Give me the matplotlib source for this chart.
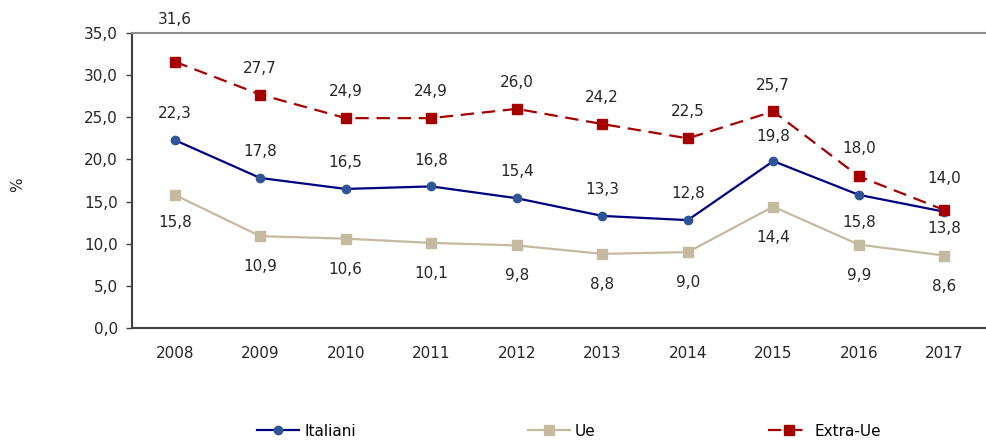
import matplotlib.pyplot as plt
import numpy as np

anni = ['2008', '2009', '2010', '2011', '2012', '2013', '2014', '2015', '2016', '2017']
italiani = [22.3, 17.8, 16.5, 16.8, 15.4, 13.3, 12.8, 19.8, 15.8, 13.8]
ue = [15.8, 10.9, 10.6, 10.1, 9.8, 8.8, 9.0, 14.4, 9.9, 8.6]
extra_ue = [31.6, 27.7, 24.9, 24.9, 26.0, 24.2, 22.5, 25.7, 18.0, 14.0]

# label offsets in points (vertical)
off_ita = [19, 19, 19, 19, 19, 19, 19, 18, -20, -12]
off_ue = [-20, -22, -22, -22, -22, -22, -22, -22, -22, -22]
off_ext = [30, 19, 19, 19, 19, 19, 19, 19, 20, 23]

plt.rcParams['font.family'] = 'DejaVu Sans'
plt.rcParams['font.size'] = 11

fig = plt.figure(figsize=(9.87, 4.4), dpi=100)
ax = fig.add_axes([0.1337, 0.2545, 0.8663, 0.6705])
x = np.arange(len(anni))

ax.plot(x, italiani, '-o', color='#000080', mfc='#2F5597', mec='#2F5597',
        lw=1.6, ms=6, label='Italiani', zorder=3)
ax.plot(x, ue, '-s', color='#C4BAA0', mfc='#C4BAA0', mec='#C4BAA0',
        lw=1.6, ms=6.5, label='Ue', zorder=2)
ax.plot(x, extra_ue, '--s', color='#A50000', mfc='#A50000', mec='#A50000',
        lw=1.6, ms=6.5, dashes=(6, 3.5), label='Extra-Ue', zorder=4)

def fmt(v):
    return f'{v:.1f}'.replace('.', ',')

for serie, offs in [(italiani, off_ita), (ue, off_ue), (extra_ue, off_ext)]:
    for xi, v, o in zip(x, serie, offs):
        ax.annotate(fmt(v), (xi, v), xytext=(0, o), textcoords='offset points',
                    ha='center', va='center', fontsize=11, color='#262626',
                    annotation_clip=False)

ax.set_xlim(-0.5, 9.5)
ax.set_ylim(0, 35)
ax.set_yticks(np.arange(0, 35.1, 5))
ax.set_yticklabels([fmt(v) for v in np.arange(0, 35.1, 5)])
ax.set_xticks(x)
ax.set_xticklabels(anni)
ax.tick_params(axis='x', length=0, pad=13, colors='#262626')
ax.tick_params(axis='y', length=4, width=1, color='#404040', pad=6, labelcolor='#262626')
ax.spines['right'].set_visible(False)
ax.spines['top'].set_color('#8c8c8c')
ax.spines['top'].set_linewidth(1.5)
ax.spines['left'].set_color('#404040')
ax.spines['left'].set_linewidth(1.5)
ax.spines['bottom'].set_color('#404040')
ax.spines['bottom'].set_linewidth(1.5)

fig.text(0.018, 0.58, '%', rotation=90, ha='center', va='center', fontsize=11,
         color='#262626')

fig.legend(loc='center', bbox_to_anchor=(0.577, 0.02), ncol=3, frameon=False,
           handlelength=2.7, handletextpad=0.35, columnspacing=11.3, fontsize=11)

fig.savefig('out.png', dpi=100)
